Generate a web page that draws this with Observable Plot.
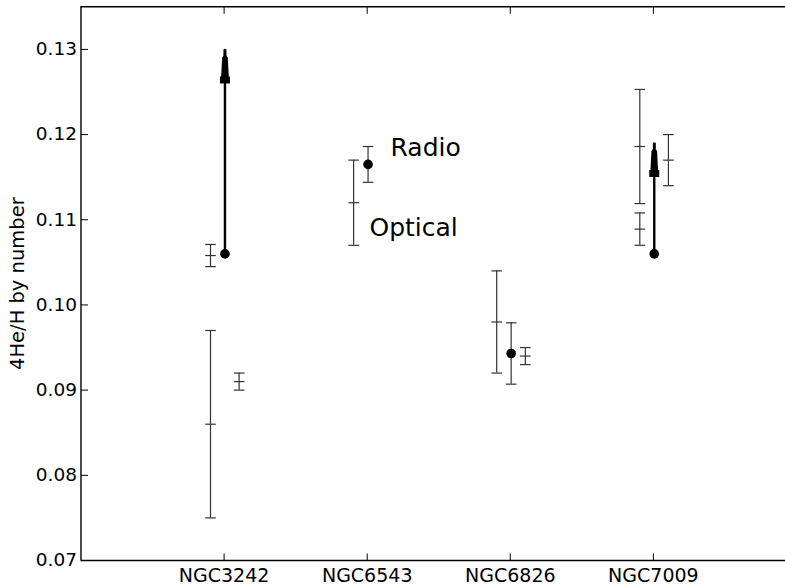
<!DOCTYPE html>
<html>
<head>
<meta charset="utf-8">
<script src="https://cdn.jsdelivr.net/npm/d3@7"></script>
<script src="https://cdn.jsdelivr.net/npm/@observablehq/plot@0.6"></script>
<style>
  html, body { margin: 0; padding: 0; background: #fff; }
  #chart svg { display: block; }
</style>
</head>
<body>
<div id="chart"></div>
<script>
// ---- data ----
const categories = ["NGC3242", "NGC6543", "NGC6826", "NGC7009"];

// optical measurements (left of each nebula)
const optCat = ["NGC3242", "NGC3242", "NGC6543", "NGC6826", "NGC7009", "NGC7009"];
const optVal = [0.086, 0.1058, 0.112, 0.098, 0.1186, 0.1089];
const optErr = [0.011, 0.0013, 0.005, 0.006, 0.0067, 0.0019];

// further optical measurements (right of each nebula)
const extCat = ["NGC3242", "NGC6826", "NGC7009"];
const extVal = [0.091, 0.094, 0.117];
const extErr = [0.001, 0.001, 0.003];

// radio measurements with error bars
const radioCat = ["NGC6543", "NGC6826"];
const radioVal = [0.1165, 0.0943];
const radioErr = [0.0021, 0.0036];

// radio lower limits (arrows)
const limitCat = ["NGC3242", "NGC7009"];
const limitVal = [0.106, 0.106];
const limitTo = [0.130, 0.119];

const yTicks = [0.07, 0.08, 0.09, 0.10, 0.11, 0.12, 0.13];

const noteText = ["Radio", "Optical"];
const noteCat = ["NGC6543", "NGC6543"];
const noteShift = [0.163, 0.016];
const noteVal = [0.1184, 0.1090];

// ---- layout constants ----
const W = 785, H = 586;
const mLeft = 80.5, mTop = 6.3, mBottom = 26, mRight = 0;
const unitPx = 143.1;
const xMax = (W - mLeft - mRight) / unitPx;
const yDomain = [0.07, 0.135];
const OFF_OPT = -0.095, OFF_EXT = 0.105, OFF_RADIO = 0.006;
const errColor = "#333";

const pos = c => categories.indexOf(c) + 1;

const errRows = [
  ...optCat.map((c, i) => ({x: pos(c) + OFF_OPT, v: optVal[i], e: optErr[i], center: true})),
  ...extCat.map((c, i) => ({x: pos(c) + OFF_EXT, v: extVal[i], e: extErr[i], center: true})),
  ...radioCat.map((c, i) => ({x: pos(c) + OFF_RADIO, v: radioVal[i], e: radioErr[i], center: false}))
];
const capRows = errRows.flatMap(d => [
  {x: d.x, y: d.v - d.e},
  {x: d.x, y: d.v + d.e},
  ...(d.center ? [{x: d.x, y: d.v}] : [])
]);
const limitRows = limitCat.map((c, i) => ({x: pos(c) + OFF_RADIO, from: limitVal[i], to: limitTo[i]}));
const radioDots = [
  ...radioCat.map((c, i) => ({x: pos(c) + OFF_RADIO, y: radioVal[i]})),
  ...limitRows.map(d => ({x: d.x, y: d.from}))
];
const notes = noteText.map((t, i) => ({t, x: pos(noteCat[i]) + noteShift[i], y: noteVal[i]}));

// ---- custom symbols ----
const hline = {draw(ctx, size) { const r = Math.sqrt(size / Math.PI); ctx.moveTo(-r, 0); ctx.lineTo(r, 0); }};
const tickRight = {draw(ctx, size) { const r = Math.sqrt(size / Math.PI); ctx.moveTo(0, 0); ctx.lineTo(r, 0); }};
const tickUp = {draw(ctx, size) { const r = Math.sqrt(size / Math.PI); ctx.moveTo(0, 0); ctx.lineTo(0, -r); }};
const tickDown = {draw(ctx, size) { const r = Math.sqrt(size / Math.PI); ctx.moveTo(0, 0); ctx.lineTo(0, r); }};
// arrow head: tip at (0,0), extending downward by r pixels, stepped taper
const arrowHead = {draw(ctx, size) {
  const L = Math.sqrt(size / Math.PI), s = L / 34;
  const pts = [[-1.4, 0], [-1.4, 6], [-2.8, 8], [-3.8, 27], [-5, 27], [-5, 34],
               [5, 34], [5, 27], [3.8, 27], [2.8, 8], [1.4, 6], [1.4, 0]];
  ctx.moveTo(pts[0][0] * s, pts[0][1] * s);
  for (const [a, b] of pts.slice(1)) ctx.lineTo(a * s, b * s);
  ctx.closePath();
}};

const chart = Plot.plot({
  width: W,
  height: H,
  marginLeft: mLeft,
  marginTop: mTop,
  marginBottom: mBottom,
  marginRight: mRight,
  style: {fontFamily: "DejaVu Sans, sans-serif", background: "#fff", color: "#000", overflow: "visible"},
  x: {domain: [0, xMax], axis: null},
  y: {domain: yDomain, axis: null},
  marks: [
    // frame (right side is cut off in the reference)
    Plot.ruleY([yDomain[0], yDomain[1]], {stroke: "#000", strokeWidth: 1.4}),
    Plot.ruleX([0], {stroke: "#000", strokeWidth: 1.4}),
    // inward ticks
    Plot.dot(yTicks, {x: 0, y: d => d, symbol: tickRight, r: 7, stroke: "#000", strokeWidth: 1, fill: "none"}),
    Plot.dot(categories, {x: (d, i) => i + 1, y: yDomain[0], symbol: tickUp, r: 7, stroke: "#000", strokeWidth: 1, fill: "none"}),
    Plot.dot(categories, {x: (d, i) => i + 1, y: yDomain[1], symbol: tickDown, r: 7, stroke: "#000", strokeWidth: 1, fill: "none"}),
    // axes labels
    Plot.axisY({ticks: yTicks, tickFormat: d3.format(".2f"), tickSize: 0, tickPadding: 4, fontSize: 18.5, label: null, anchor: "left"}),
    Plot.axisX({ticks: [1, 2, 3, 4], tickFormat: d => categories[d - 1], tickSize: 0, tickPadding: 7.5, fontSize: 19, label: null, anchor: "bottom"}),
    Plot.text(["4He/H by number"], {frameAnchor: "left", dx: -63, rotate: -90, fontSize: 19.5, fill: "#000", textAnchor: "middle"}),
    // error bars
    Plot.ruleX(errRows, {x: "x", y1: d => d.v - d.e, y2: d => d.v + d.e, stroke: errColor, strokeWidth: 1.2}),
    Plot.dot(capRows, {x: "x", y: "y", symbol: hline, r: 5.3, stroke: errColor, strokeWidth: 1.2, fill: "none"}),
    // radio lower limits
    Plot.ruleX(limitRows, {x: "x", y1: "from", y2: "to", stroke: "#000", strokeWidth: 2.4}),
    Plot.dot(limitRows, {x: "x", y: "to", symbol: arrowHead, r: 34, fill: "#000", stroke: "none"}),
    // radio points
    Plot.dot(radioDots, {x: "x", y: "y", r: 4.8, fill: "#000", stroke: "none"}),
    // annotations
    Plot.text(notes, {x: "x", y: "y", text: "t", textAnchor: "start", fontSize: 25, fill: "#000"})
  ]
});
document.getElementById("chart").append(chart);
</script>
</body>
</html>
